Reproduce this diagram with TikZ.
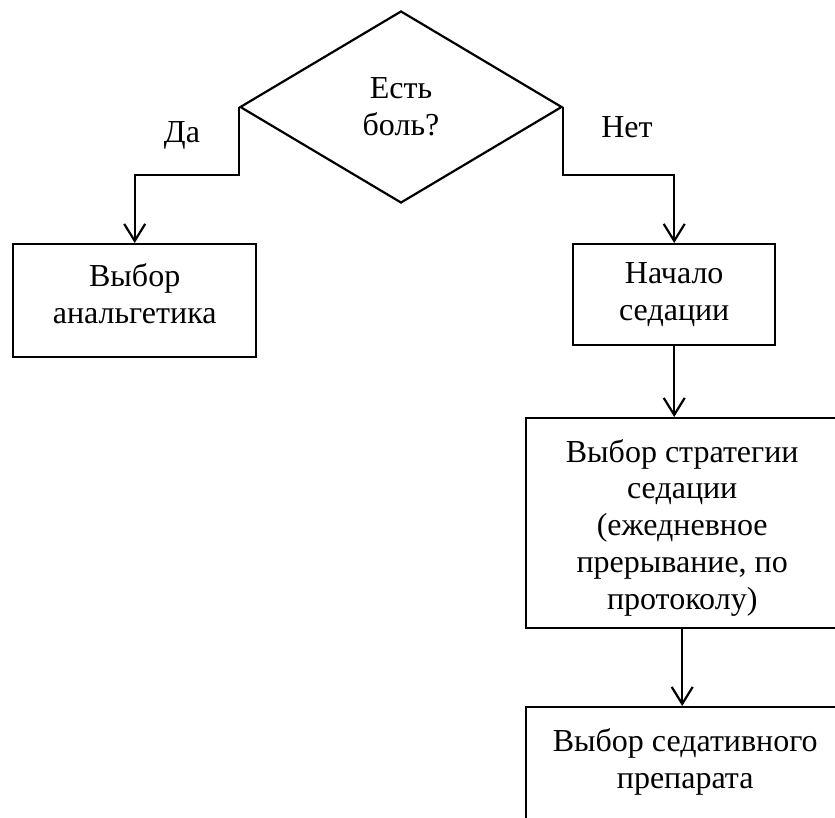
\documentclass[tikz,border=0pt]{standalone}
\usepackage{fontspec}
\setmainfont{Liberation Serif}
\usetikzlibrary{shapes.geometric,arrows.meta}

\begin{document}
\begin{tikzpicture}[x=1pt, y=-1pt,
    every node/.style={font=\fontsize{32}{36.8}\selectfont},
    box/.style={draw, rectangle, line width=2.4pt, align=center, anchor=north west, inner sep=0pt},
    arr/.style={line width=2.2pt, -{Straight Barb[length=17pt,width=21pt]}}]
    \useasboundingbox (0,0) rectangle (835,818);
    % question
    \node[draw, diamond, line width=2.2pt, minimum width=322pt, minimum height=192pt,
          inner sep=0pt, align=center] (pain) at (401,107) {Есть\\боль?};
    % boxes
    \node[box, minimum width=243pt, minimum height=113pt] (analg) at (12,243)
          {Выбор\\анальгетика\rule[-14pt]{0pt}{14pt}};
    \node[box, minimum width=202pt, minimum height=101pt] (sedstart) at (572,243)
          {Начало\\седации};
    \node[box, minimum width=312pt, minimum height=210pt] (strat) at (525,417)
          {\rule{0pt}{32pt}Выбор стратегии\\седации\\(ежедневное\\прерывание, по\\протоколу)};
    \node[box, minimum width=318pt, minimum height=130pt] (drug) at (525,706)
          {Выбор седативного\\препарата\rule[-27pt]{0pt}{27pt}};
    % labels
    \node (yes) at (182,135) {Да};
    \node (no)  at (627,127) {Нет};
    % arrows
    \draw[arr] (pain.west) |- ([yshift=68pt]analg.north) -- (analg.north);
    \draw[arr] (pain.east) |- ([yshift=68pt]sedstart.north) -- (sedstart.north);
    \draw[arr] (sedstart.south) -- (sedstart.south |- strat.north);
    \draw[arr] (strat.south) -- (strat.south |- drug.north);
\end{tikzpicture}
\end{document}
